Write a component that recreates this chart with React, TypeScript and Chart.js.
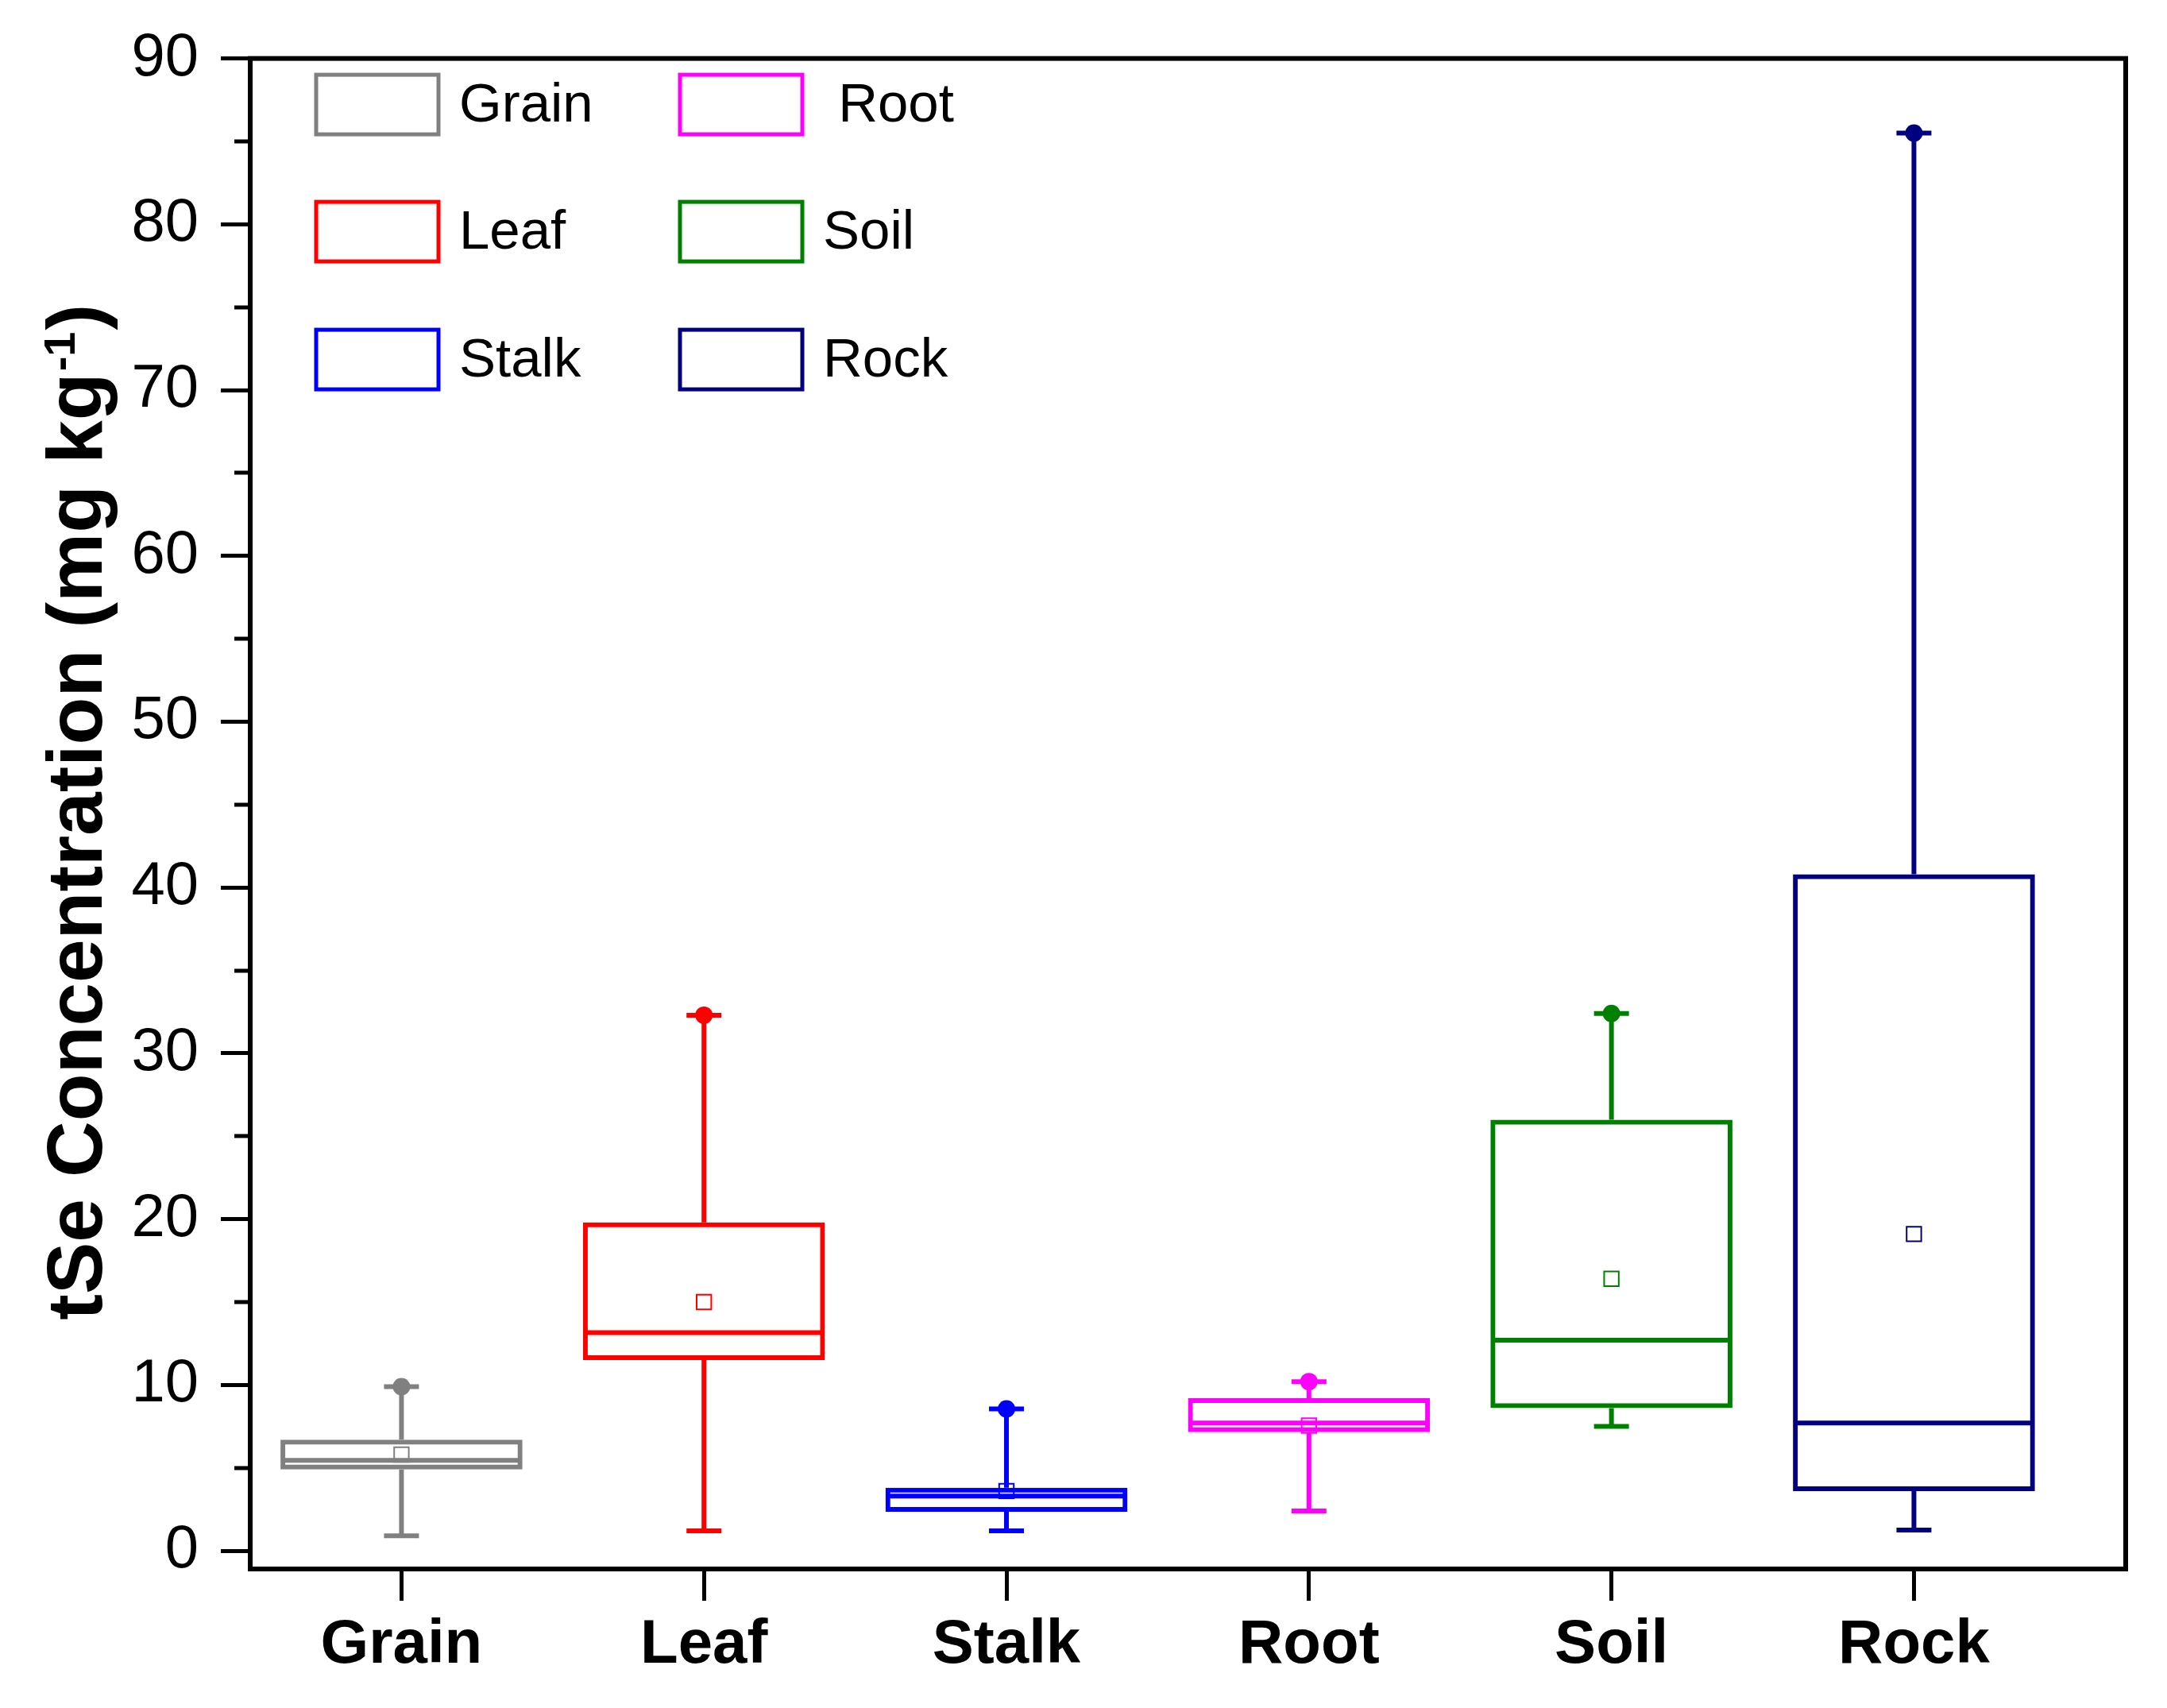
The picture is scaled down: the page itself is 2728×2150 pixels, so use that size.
import React, { useEffect, useRef } from 'react';
import { Chart, registerables } from 'chart.js';

Chart.register(...registerables);

// ---- data ----
const categories = ['Grain', 'Leaf', 'Stalk', 'Root', 'Soil', 'Rock'];
const colors = ['#808080', '#FF0000', '#0000FF', '#FF00FF', '#008000', '#000080'];
const minValues = [0.9, 1.2, 1.2, 2.4, 7.5, 1.25];
const q1Values = [4.9, 11.5, 2.35, 7.15, 8.6, 3.6];
const medianValues = [5.45, 13.15, 3.3, 7.7, 12.7, 7.7];
const q3Values = [6.7, 19.8, 3.8, 9.2, 26.0, 40.8];
const maxValues = [9.9, 32.3, 8.55, 10.2, 32.4, 85.5];
const meanValues = [5.8, 15.0, 3.6, 7.55, 16.4, 19.1];
const yTickValues = [0, 10, 20, 30, 40, 50, 60, 70, 80, 90];
const yMinorTickValues = [5, 15, 25, 35, 45, 55, 65, 75, 85];
const legendLabels = ['Grain', 'Leaf', 'Stalk', ' Root', 'Soil', 'Rock'];
const titleMain = 'tSe Concentration (mg kg';
const titleSup = '-1';
const titleEnd = ')';

const FAM = "'Liberation Sans', Arial, Helvetica, sans-serif";

const extrasPlugin = {
  id: 'boxExtras',
  afterDatasetsDraw(chart: any) {
    const { ctx, scales } = chart;
    const x = scales.x;
    const y = scales.y;
    const capHalf = 22;
    const line = (x1: number, y1: number, x2: number, y2: number) => {
      ctx.beginPath();
      ctx.moveTo(x1, y1);
      ctx.lineTo(x2, y2);
      ctx.stroke();
    };
    ctx.save();
    ctx.lineCap = 'butt';
    categories.forEach((_, i) => {
      const px = x.getPixelForValue(i);
      const half = x.getPixelForValue(i + 0.4) - px;
      ctx.strokeStyle = colors[i];
      ctx.lineWidth = 6;
      // median
      line(px - half + 2, y.getPixelForValue(medianValues[i]), px + half - 2, y.getPixelForValue(medianValues[i]));
      // whiskers
      line(px, y.getPixelForValue(q3Values[i]), px, y.getPixelForValue(maxValues[i]));
      line(px, y.getPixelForValue(q1Values[i]), px, y.getPixelForValue(minValues[i]));
      // caps
      line(px - capHalf, y.getPixelForValue(maxValues[i]), px + capHalf, y.getPixelForValue(maxValues[i]));
      line(px - capHalf, y.getPixelForValue(minValues[i]), px + capHalf, y.getPixelForValue(minValues[i]));
    });
    ctx.restore();
  },
  afterDraw(chart: any) {
    const { ctx, chartArea, scales } = chart;
    const y = scales.y;
    ctx.save();
    // frame
    ctx.strokeStyle = '#000';
    ctx.lineWidth = 6;
    ctx.strokeRect(chartArea.left, chartArea.top, chartArea.right - chartArea.left, chartArea.bottom - chartArea.top);
    // minor ticks on y
    ctx.lineWidth = 5;
    yMinorTickValues.forEach((v) => {
      const py = Math.round(y.getPixelForValue(v));
      ctx.beginPath();
      ctx.moveTo(chartArea.left - 20, py);
      ctx.lineTo(chartArea.left, py);
      ctx.stroke();
    });
    // legend
    const boxLeft = [chartArea.left + 83, chartArea.left + 541];
    const textLeft = [chartArea.left + 263, chartArea.left + 721];
    const rowCenter = [chartArea.top + 58, chartArea.top + 218, chartArea.top + 379];
    ctx.font = `69px ${FAM}`;
    ctx.textBaseline = 'middle';
    ctx.textAlign = 'left';
    legendLabels.forEach((lab, i) => {
      const col = Math.floor(i / 3);
      const row = i % 3;
      ctx.strokeStyle = colors[i];
      ctx.lineWidth = 5;
      ctx.strokeRect(boxLeft[col], rowCenter[row] - 37.5, 154, 75);
      ctx.fillStyle = '#000';
      ctx.fillText(lab, textLeft[col], rowCenter[row] + 2);
    });
    // y title with superscript
    const mainFont = `bold 98px ${FAM}`;
    const supFont = `bold 56px ${FAM}`;
    ctx.font = mainFont;
    const w1 = ctx.measureText(titleMain).width;
    const w3 = ctx.measureText(titleEnd).width;
    ctx.font = supFont;
    const w2 = ctx.measureText(titleSup).width;
    const cy = (chartArea.top + chartArea.bottom) / 2;
    ctx.translate(chartArea.left - 187, cy);
    ctx.rotate(-Math.PI / 2);
    ctx.textBaseline = 'alphabetic';
    ctx.fillStyle = '#000';
    const x0 = -(w1 + w2 + w3) / 2;
    ctx.font = mainFont;
    ctx.fillText(titleMain, x0, 0);
    ctx.font = supFont;
    ctx.fillText(titleSup, x0 + w1 + 2, -34);
    ctx.font = mainFont;
    ctx.fillText(titleEnd, x0 + w1 + w2 + 4, 0);
    ctx.restore();
  },
};

export default function App() {
  const ref = useRef<HTMLCanvasElement>(null);
  useEffect(() => {
    document.body.style.margin = '0';
    const canvas = ref.current;
    if (!canvas) return;
    const chart = new Chart(canvas, {
      type: 'bar',
      data: {
        datasets: [
          {
            type: 'scatter',
            label: 'Max',
            data: categories.map((_, i) => ({ x: i, y: maxValues[i] })),
            pointStyle: 'circle',
            pointRadius: 11,
            pointBackgroundColor: colors,
            pointBorderColor: colors,
            pointBorderWidth: 0,
          } as any,
          {
            type: 'scatter',
            label: 'Mean',
            data: categories.map((_, i) => ({ x: i, y: meanValues[i] })),
            pointStyle: 'rect',
            pointRadius: 13,
            pointBackgroundColor: 'rgba(0,0,0,0)',
            pointBorderColor: colors,
            pointBorderWidth: 2,
          } as any,
          {
            type: 'bar',
            label: 'Box',
            data: categories.map((_, i) => ({ x: i, y: [q1Values[i], q3Values[i]] })),
            backgroundColor: 'rgba(0,0,0,0)',
            borderColor: colors,
            borderWidth: 6,
            borderSkipped: false,
            barPercentage: 0.8,
            categoryPercentage: 1,
          } as any,
        ],
      },
      options: {
        animation: false,
        responsive: false,
        devicePixelRatio: 1,
        events: [],
        layout: { padding: { top: 73, right: 52, left: 0, bottom: 0 } },
        plugins: {
          legend: { display: false },
          tooltip: { enabled: false },
          title: { display: false },
        },
        scales: {
          x: {
            type: 'linear',
            min: -0.5,
            max: 5.7,
            offset: false,
            afterBuildTicks: (s: any) => {
              s.ticks = categories.map((_, i) => ({ value: i }));
            },
            afterFit: (s: any) => {
              s.height = 175;
            },
            ticks: {
              callback: (v: any) => categories[v] ?? '',
              font: { family: FAM, size: 78, weight: 'bold' },
              color: '#000',
              padding: 10,
              autoSkip: false,
              maxRotation: 0,
              minRotation: 0,
            },
            grid: {
              display: true,
              offset: false,
              drawOnChartArea: false,
              drawTicks: true,
              tickLength: 40,
              tickWidth: 5,
              tickColor: '#000',
            },
            border: { display: false },
          },
          y: {
            type: 'linear',
            min: -1.1,
            max: 90,
            afterBuildTicks: (s: any) => {
              s.ticks = yTickValues.map((v) => ({ value: v }));
            },
            afterFit: (s: any) => {
              s.width = 315;
            },
            ticks: {
              font: { family: FAM, size: 76 },
              color: '#000',
              padding: 28,
            },
            grid: {
              display: true,
              drawOnChartArea: false,
              drawTicks: true,
              tickLength: 37,
              tickWidth: 5,
              tickColor: '#000',
            },
            border: { display: false },
          },
        },
      } as any,
      plugins: [extrasPlugin],
    });
    return () => chart.destroy();
  }, []);
  return (
    <div style={{ position: 'absolute', left: 0, top: 0, width: 2728, height: 2150, background: '#fff' }}>
      <canvas ref={ref} width={2728} height={2150} style={{ width: '2728px', height: '2150px', display: 'block' }} />
    </div>
  );
}
